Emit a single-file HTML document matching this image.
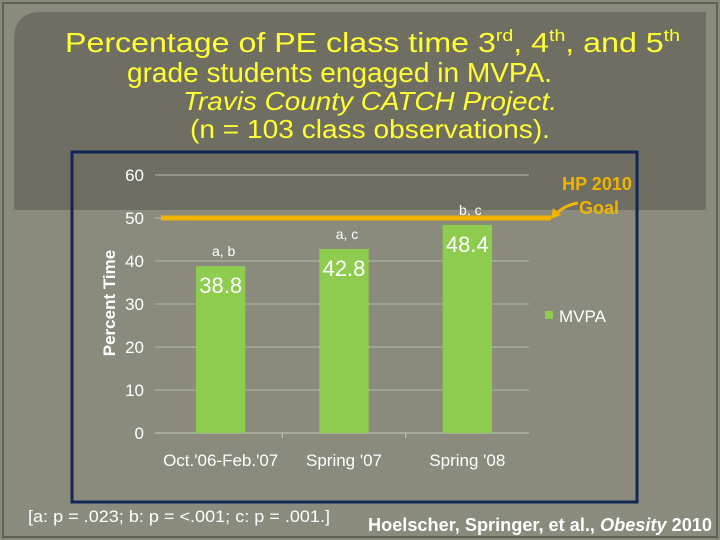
<!DOCTYPE html>
<html><head><meta charset="utf-8"><style>
body{margin:0;width:720px;height:540px;overflow:hidden;background:#8a8b7c;font-family:"Liberation Sans",sans-serif;}
</style></head><body>
<svg width="720" height="540" style="position:absolute;left:0;top:0">
<rect x="0" y="0" width="720" height="540" fill="#878878"/>
<rect x="3" y="3" width="714" height="534" fill="#8a8b7c" stroke="#5e5f55" stroke-width="2"/>
<path d="M14,210 L14,40 Q14,12 42,12 L706,12 L706,210 Z" fill="#6e6e63"/>
<g fill="#ffff33">
<text x="65" y="52" font-size="28" textLength="615" lengthAdjust="spacingAndGlyphs">Percentage of PE class time 3<tspan font-size="17" dy="-11">rd</tspan><tspan dy="11">, 4</tspan><tspan font-size="17" dy="-11">th</tspan><tspan dy="11">, and 5</tspan><tspan font-size="17" dy="-11">th</tspan></text>
<text x="127" y="82" font-size="28" textLength="425" lengthAdjust="spacingAndGlyphs">grade students engaged in MVPA.</text>
<text x="183" y="110" font-size="26" font-style="italic" textLength="374" lengthAdjust="spacingAndGlyphs">Travis County CATCH Project.</text>
<text x="190" y="138" font-size="26" textLength="360" lengthAdjust="spacingAndGlyphs">(n = 103 class observations).</text>
</g>
<rect x="72" y="152" width="565" height="350" fill="none" stroke="#13265a" stroke-width="3"/>
<g id="chart"></g>
<text x="28" y="522" font-size="17" textLength="302" lengthAdjust="spacingAndGlyphs" fill="#ffffff">[a: p = .023; b: p = &lt;.001; c: p = .001.]</text>
<text x="368" y="531" font-size="18" font-weight="bold" fill="#ffffff" textLength="344" lengthAdjust="spacingAndGlyphs">Hoelscher, Springer, et al., <tspan font-style="italic">Obesity</tspan> 2010</text>
</svg>
<script>
const categories=["Oct.'06-Feb.'07","Spring '07","Spring '08"];
const values=[38.8,42.8,48.4];
const sigLabels=["a, b","a, c","b, c"];
const yTicks=[0,10,20,30,40,50,60];
const goalValue=50;
const NS="http://www.w3.org/2000/svg";
const g=document.getElementById('chart');
const x0=159,x1=529,yb=433,yt=175,ymax=60;
const y=v=>yb-(v/ymax)*(yb-yt);
const bw=(x1-x0)/categories.length;
const xc=i=>x0+bw*(i+0.5);
function mk(t,a,txt){const e=document.createElementNS(NS,t);for(const k in a)e.setAttribute(k,a[k]);if(txt!=null)e.textContent=txt;g.appendChild(e);return e;}
yTicks.forEach(t=>{
 const l=mk('line',{x1:x0-4,x2:x1,y1:y(t),y2:y(t),stroke:t===0?'#c8c8c0':'#b8b8b0','stroke-width':1});
 
 
 const tx=mk('text',{x:144,y:y(t)+6,'font-size':17,fill:'#ffffff','text-anchor':'end'},String(t));
 
 
});
for(let i=1;i<categories.length;i++){
 const tk=mk('line',{x1:x0+bw*i,x2:x0+bw*i,y1:yb,y2:yb+5,stroke:'#c8c8c0'});
 
 
}
categories.forEach((c,i)=>{
 const w=bw*0.4;
 const r=mk('rect',{x:xc(i)-w/2,y:y(values[i]),width:w,height:yb-y(values[i]),fill:'#8dcc4e'});
 
 
 const v=mk('text',{x:xc(i),y:y(values[i])+27,'font-size':22,fill:'#ffffff','text-anchor':'middle'},values[i].toFixed(1));
 
 
 const s=mk('text',{x:xc(i)+3,y:y(values[i])-10,'font-size':14,fill:'#ffffff','text-anchor':'middle'},sigLabels[i]);
 
 
 const cl=mk('text',{x:xc(i),y:466,'font-size':17,fill:'#ffffff','text-anchor':'middle'},c);
 
 
});
const gl=mk('line',{x1:161,x2:551,y1:y(goalValue),y2:y(goalValue),stroke:'#f0b400','stroke-width':5});


const ar=mk('path',{d:'M578,203 Q565,205 556,214',fill:'none',stroke:'#f0b400','stroke-width':3});


const ah=mk('path',{d:'M551,219 L553,208 L561,215 Z',fill:'#f0b400'});


const h1=mk('text',{x:597,y:190,'font-size':18,'font-weight':'bold',fill:'#f0b400','text-anchor':'middle'},'HP 2010');


const h2=mk('text',{x:599,y:214,'font-size':18,'font-weight':'bold',fill:'#f0b400','text-anchor':'middle'},'Goal');


const ls=mk('rect',{x:545,y:311,width:8,height:8,fill:'#8dcc4e'});


const lt=mk('text',{x:559,y:322,'font-size':17,fill:'#ffffff'},'MVPA');


const yt2=mk('text',{x:0,y:0,'font-size':17,'font-weight':'bold',fill:'#ffffff','text-anchor':'middle',transform:'translate(115,303) rotate(-90)'},'Percent Time');


</script>
</body></html>
